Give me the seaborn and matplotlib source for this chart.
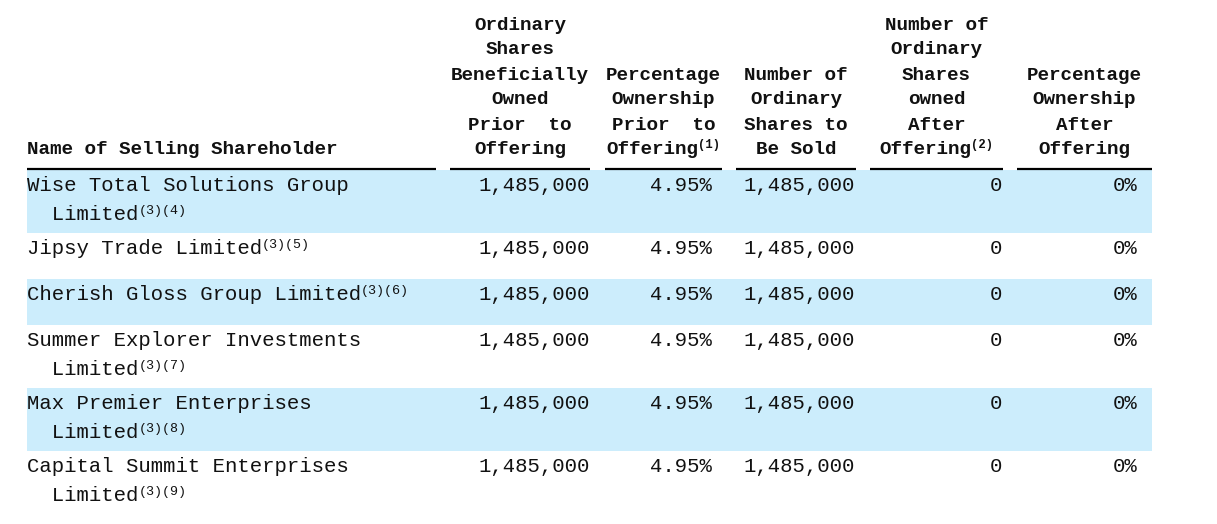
import textwrap
import matplotlib
matplotlib.use("Agg")
import matplotlib.pyplot as plt
import seaborn as sns

# ---------------- data ----------------
header_col1 = ["Name of Selling Shareholder"]
header_col2 = ["Ordinary", "Shares", "Beneficially", "Owned", "Prior  to", "Offering"]
header_col3 = ["Percentage", "Ownership", "Prior  to", "Offering"]
header_col4 = ["Number of", "Ordinary", "Shares to", "Be Sold"]
header_col5 = ["Number of", "Ordinary", "Shares", "owned", "After", "Offering"]
header_col6 = ["Percentage", "Ownership", "After", "Offering"]
header_notes = ["", "", "(1)", "", "(2)", ""]

shareholders = [
    "Wise Total Solutions Group Limited",
    "Jipsy Trade Limited",
    "Cherish Gloss Group Limited",
    "Summer Explorer Investments Limited",
    "Max Premier Enterprises Limited",
    "Capital Summit Enterprises Limited",
]
shareholder_notes = ["(3)(4)", "(3)(5)", "(3)(6)", "(3)(7)", "(3)(8)", "(3)(9)"]
shares_prior = [1485000, 1485000, 1485000, 1485000, 1485000, 1485000]
pct_prior = [4.95, 4.95, 4.95, 4.95, 4.95, 4.95]
shares_sold = [1485000, 1485000, 1485000, 1485000, 1485000, 1485000]
shares_after = [0, 0, 0, 0, 0, 0]
pct_after = [0, 0, 0, 0, 0, 0]

# ---------------- style ----------------
sns.set_theme(style="white")
plt.rcParams["font.family"] = ["Liberation Mono", "DejaVu Sans Mono"]

W, H = 1217, 524
fig = plt.figure(figsize=(W / 100, H / 100), dpi=100)
ax = fig.add_axes([0, 0, 1, 1])
ax.set_xlim(0, W)
ax.set_ylim(H, 0)
ax.axis("off")

TXT = "#111111"
BAND = "#CCEDFC"
HFS = 13.9          # header font (pt)
BFS = 14.9          # body font (pt)
NFS = 9.6           # footnote font
HCW = 11.6          # header char width px
NCW = 7.4           # header note char width px

# column geometry (pixels)
col_lines = [(27, 436), (450, 590), (605, 722), (736, 856), (870, 1003), (1017, 1152)]
col_right = [None, 590, 712, 855, 1002, 1138]
headers = [header_col1, header_col2, header_col3, header_col4, header_col5, header_col6]

# ---------------- header ----------------
pitch_h = 25
last_y = 150
for ci, (lines, note) in enumerate(zip(headers, header_notes)):
    x0, x1 = col_lines[ci]
    cx = (x0 + x1) / 2
    n = len(lines)
    for k, line in enumerate(lines):
        y = last_y - (n - 1 - k) * pitch_h
        if ci == 0:
            ax.text(x0, y, line, ha="left", va="center", fontsize=HFS,
                    fontweight="bold", color=TXT)
        elif k == n - 1 and note:
            total = len(line) * HCW + len(note) * NCW
            t = ax.text(cx - total / 2, y, line, ha="left", va="center",
                        fontsize=HFS, fontweight="bold", color=TXT)
            ax.annotate(note, xy=(1, 1.12), xycoords=t, ha="left", va="top",
                        fontsize=NFS - 0.8, fontweight="bold", color=TXT)
        else:
            ax.text(cx, y, line, ha="center", va="center", fontsize=HFS,
                    fontweight="bold", color=TXT)
    ax.plot([x0, x1], [168.5, 168.5], color="black", lw=1.6,
            solid_capstyle="butt")

# ---------------- body ----------------
row_top = 170
line_pitch = 29
first_off = 15.5
for i, name in enumerate(shareholders):
    wrapped = textwrap.wrap(name, width=27)
    nlines = len(wrapped)
    row_h = 63 if nlines > 1 else 46
    if i % 2 == 0:
        ax.fill_between([27, 1152], row_top, row_top + row_h, color=BAND,
                        linewidth=0, zorder=0)
    y1 = row_top + first_off
    t = None
    for k, part in enumerate(wrapped):
        txt = part if k == 0 else "  " + part
        t = ax.text(27, y1 + k * line_pitch, txt, ha="left", va="center",
                    fontsize=BFS, color=TXT)
    ax.annotate(shareholder_notes[i], xy=(1, 1.02), xycoords=t, ha="left",
                va="top", fontsize=NFS, color=TXT)

    vals = [f"{shares_prior[i]:,}", f"{pct_prior[i]:.2f}%", f"{shares_sold[i]:,}",
            f"{shares_after[i]:,}", f"{pct_after[i]}%"]
    for ci, v in enumerate(vals, start=1):
        ax.text(col_right[ci], y1, v, ha="right", va="center", fontsize=BFS,
                color=TXT)
    row_top += row_h

fig.savefig("out.png", dpi=100, facecolor="white")
